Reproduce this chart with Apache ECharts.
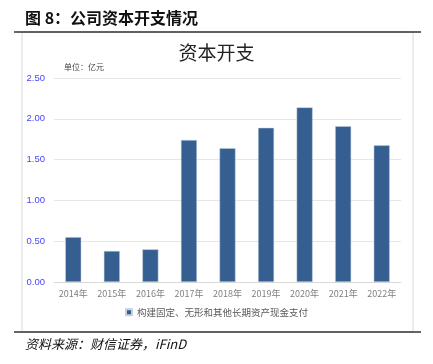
<!DOCTYPE html>
<html>
<head>
<meta charset="utf-8">
<script src="https://cdn.jsdelivr.net/npm/echarts@6/dist/echarts.min.js"></script>
<style>
  html, body { margin: 0; padding: 0; background: #fff; }
  #chart { width: 433px; height: 364px; }
</style>
</head>
<body>
<div id="chart"></div>
<script>
const years = ["2014年", "2015年", "2016年", "2017年", "2018年", "2019年", "2020年", "2021年", "2022年"];
const capex = [0.55, 0.38, 0.40, 1.74, 1.64, 1.89, 2.14, 1.91, 1.675];
const seriesName = "构建固定、无形和其他长期资产现金支付";

const cjk = "'Noto Sans CJK SC', sans-serif";
const chart = echarts.init(document.getElementById("chart"));

const option = {
  animation: false,
  textStyle: { fontFamily: cjk },
  title: {
    text: "资本开支",
    left: "center",
    top: 38,
    textStyle: { fontSize: 19, fontWeight: "normal", color: "#222", fontFamily: cjk },
  },
  legend: {
    bottom: 42,
    left: "center",
    itemWidth: 6,
    itemHeight: 6,
    itemGap: 4,
    icon: "rect",
    textStyle: { fontSize: 9.5, color: "#595959", fontFamily: cjk },
    data: [seriesName],
  },
  grid: { left: 54, right: 32, top: 78, bottom: 82 },
  xAxis: {
    type: "category",
    data: years,
    axisLine: { lineStyle: { color: "#d9d9d9" } },
    axisTick: { show: false },
    axisLabel: { color: "#7f7f7f", fontSize: 9, margin: 7, interval: 0 },
  },
  yAxis: {
    type: "value",
    min: 0,
    max: 2.5,
    interval: 0.5,
    axisLine: { show: false },
    axisTick: { show: false },
    splitLine: { lineStyle: { color: "#e6e6e6", width: 1 } },
    axisLabel: {
      color: "#4646ff",
      fontSize: 9.5,
      margin: 9,
      fontFamily: "Liberation Sans, sans-serif",
      formatter: (v) => v.toFixed(2),
    },
  },
  series: [
    {
      name: seriesName,
      type: "bar",
      data: capex,
      barWidth: 16,
      itemStyle: { color: "#365f91", borderColor: "#c5d0e0", borderWidth: 0.5 },
    },
  ],
  graphic: [
    {
      type: "text",
      left: 25,
      top: 10,
      style: { text: "图 8：公司资本开支情况", fontSize: 16, fontWeight: "bold", fill: "#111", fontFamily: cjk },
    },
    {
      type: "rect",
      shape: { x: 22, y: 32, width: 391, height: 300 },
      style: { fill: "none", stroke: "#d9d9d9", lineWidth: 1 },
    },
    {
      type: "line",
      shape: { x1: 14, y1: 32, x2: 421, y2: 32 },
      style: { stroke: "#333", lineWidth: 1.5 },
    },
    {
      type: "line",
      shape: { x1: 14, y1: 332, x2: 421, y2: 332 },
      style: { stroke: "#333", lineWidth: 1.5 },
    },
    {
      type: "text",
      left: 64,
      top: 63,
      style: { text: "单位：亿元", fontSize: 8, fill: "#444", fontFamily: cjk },
    },
    {
      type: "text",
      left: 25,
      top: 338,
      style: { text: "资料来源：财信证券，iFinD", fontSize: 13, fontStyle: "italic", fill: "#111", fontFamily: cjk },
    },
  ],
};

chart.setOption(option);
window.addEventListener("resize", function () {
  chart.resize();
});
</script>
</body>
</html>
